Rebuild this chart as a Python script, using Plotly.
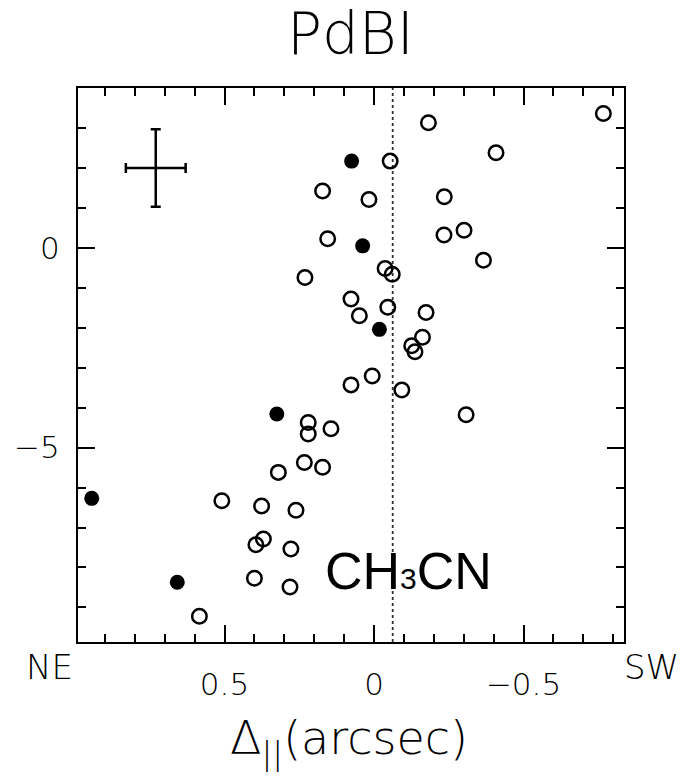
import plotly.graph_objects as go

# ---- data ----
open_x = [-0.767, -0.182, -0.408, -0.054, 0.172, -0.235, 0.017, -0.301, -0.234, 0.155,
          -0.366, -0.037, -0.061, 0.231, 0.077, -0.046, -0.174, 0.049, -0.162, -0.126,
          -0.137, 0.006, 0.077, -0.093, -0.308, 0.220, 0.144, 0.220, 0.233, 0.172,
          0.320, 0.509, 0.376, 0.261, 0.370, 0.395, 0.278, 0.400, 0.281, 0.584]
open_y = [3.36, 3.13, 2.38, 2.17, 1.42, 1.28, 1.21, 0.44, 0.32, 0.23,
          -0.31, -0.52, -0.66, -0.74, -1.28, -1.49, -1.62, -1.70, -2.24, -2.45,
          -2.60, -3.21, -3.43, -3.56, -4.18, -4.37, -4.53, -4.66, -5.37, -5.49,
          -5.62, -6.33, -6.46, -6.57, -7.29, -7.43, -7.54, -8.27, -8.49, -9.22]
filled_x = [0.075, 0.038, -0.018, 0.325, 0.944, 0.658]
filled_y = [2.17, 0.05, -2.04, -4.16, -6.27, -8.37]

err_x = [0.73]
err_y = [2.0]
err_dx = [0.1]
err_dy = [0.97]

ref_line_x = -0.0625

x_range = [0.99, -0.836]
y_range = [-9.865, 4.0]
x_tickvals = [0.5, 0, -0.5]
x_ticktext = ["0.5", "0", "\u22120.5"]
y_tickvals = [0, -5]
y_ticktext = ["0", "\u22125"]

HERSHEY = "DejaVu Sans, Lato"
W = 200
fig = go.Figure()

fig.add_trace(go.Scatter(
    x=open_x, y=open_y, mode="markers",
    marker=dict(symbol="circle-open", size=14.5, color="black", line=dict(width=2.5, color="black")),
    showlegend=False))
fig.add_trace(go.Scatter(
    x=filled_x, y=filled_y, mode="markers",
    marker=dict(symbol="circle", size=15, color="black", line=dict(width=0)),
    showlegend=False))
fig.add_trace(go.Scatter(
    x=err_x, y=err_y, mode="markers",
    marker=dict(size=1, color="rgba(0,0,0,0)"),
    error_x=dict(type="data", array=err_dx, visible=True, color="black", thickness=2.5, width=5),
    error_y=dict(type="data", array=err_dy, visible=True, color="black", thickness=2.5, width=5),
    showlegend=False))

fig.add_shape(type="line", xref="x", yref="paper", x0=ref_line_x, x1=ref_line_x, y0=0, y1=1,
              line=dict(color="#333", width=1.8, dash="dot"), layer="below")

axis_common = dict(showline=True, linecolor="black", linewidth=2, mirror="allticks",
                   ticks="inside", ticklen=17, tickwidth=2, tickcolor="black",
                   showgrid=False, zeroline=False, automargin=False,
                   tickfont=dict(family=HERSHEY, size=31, color="black", weight=W))

fig.update_xaxes(range=x_range, tickvals=x_tickvals, ticktext=x_ticktext,
                 minor=dict(ticks="inside", ticklen=8, tickwidth=2, tickcolor="black", dtick=0.1, tick0=0, showgrid=False),
                 ticklabelstandoff=14, **axis_common)
fig.update_yaxes(range=y_range, tickvals=y_tickvals, ticktext=y_ticktext,
                 minor=dict(ticks="inside", ticklen=8, tickwidth=2, tickcolor="black", dtick=1, tick0=0, showgrid=False),
                 ticklabelstandoff=10, **axis_common)

ann_font = dict(family=HERSHEY, color="black", weight=W)
fig.add_annotation(text="PdBI", xref="paper", yref="paper", x=0.499, y=1.0974,
                   xanchor="center", yanchor="middle", showarrow=False,
                   font=dict(size=58, **ann_font))
fig.add_annotation(text="NE", xref="paper", yref="paper", x=-0.0531, y=-0.0451,
                   xanchor="center", yanchor="middle", showarrow=False,
                   font=dict(size=34, **ann_font))
fig.add_annotation(text="SW", xref="paper", yref="paper", x=1.0495, y=-0.0451,
                   xanchor="center", yanchor="middle", showarrow=False,
                   font=dict(size=34, **ann_font))
fig.add_annotation(text="\u0394<sub>||</sub>(arcsec)", xref="paper", yref="paper", x=0.497, y=-0.18,
                   xanchor="center", yanchor="middle", showarrow=False,
                   font=dict(size=46, **ann_font))
fig.add_annotation(text="CH<span style=\"font-size:30px\">3</span>CN", xref="paper", yref="paper",
                   x=0.4487, y=0.128, xanchor="left", yanchor="middle", showarrow=False,
                   font=dict(family="Liberation Sans, Arial", size=52, color="black"))

fig.update_layout(width=681, height=780, margin=dict(l=78, r=57, t=88, b=137.5, pad=0),
                  plot_bgcolor="white", paper_bgcolor="white", showlegend=False)

# remove the default page margin so the figure sits at the window's top-left corner
fig.write_html("out.html", config={"displayModeBar": False},
               post_script="document.body.style.margin='0';")
